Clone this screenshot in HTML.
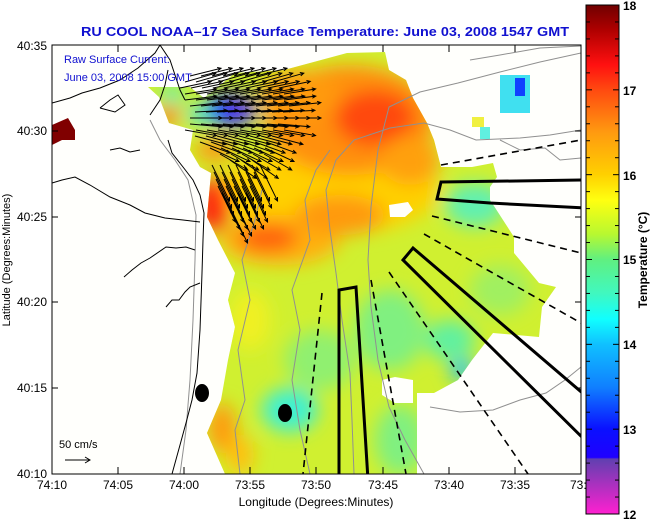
<!DOCTYPE html>
<html><head><meta charset="utf-8">
<style>
html,body{margin:0;padding:0;background:#fff;}
svg{display:block;font-family:"Liberation Sans",Arial,sans-serif;}
</style></head>
<body>
<svg id="chart" width="651" height="519" viewBox="0 0 651 519" xmlns="http://www.w3.org/2000/svg">
<defs>
  <clipPath id="plotClip"><rect x="52" y="45" width="529" height="429"/></clipPath>
  <clipPath id="dataClip"><polygon points="148,87 190,87 204,98 235,73 284,70 347,53 385,52 389,70 406,80 413,98 427,123 434,140 441,167 472,167 493,163 497,177 490,187 490,200 514,237 514,253 539,283 556,287 542,307 539,337 493,333 472,360 458,380 434,393 417,393 417,474 225,474 207,433 221,400 228,360 235,327 228,300 235,273 218,240 207,217 211,173 200,167 190,150 193,130 169,123 159,97"/></clipPath>
  <filter id="blur" x="-30%" y="-30%" width="160%" height="160%"><feGaussianBlur stdDeviation="9"/></filter>
  <linearGradient id="cbGrad" x1="0" y1="0" x2="0" y2="1">
    <stop offset="0" stop-color="#700000"/>
    <stop offset="0.05" stop-color="#b00000"/>
    <stop offset="0.117" stop-color="#ff1010"/>
    <stop offset="0.167" stop-color="#ff4a10"/>
    <stop offset="0.25" stop-color="#ff9a10"/>
    <stop offset="0.333" stop-color="#ffd000"/>
    <stop offset="0.383" stop-color="#ffff10"/>
    <stop offset="0.45" stop-color="#b8f830"/>
    <stop offset="0.5" stop-color="#60f080"/>
    <stop offset="0.567" stop-color="#40f8c0"/>
    <stop offset="0.617" stop-color="#10ffff"/>
    <stop offset="0.667" stop-color="#10c0ff"/>
    <stop offset="0.75" stop-color="#1080ff"/>
    <stop offset="0.833" stop-color="#0a10ff"/>
    <stop offset="0.889" stop-color="#2000ff"/>
    <stop offset="0.892" stop-color="#6040b0"/>
    <stop offset="1" stop-color="#ff20d0"/>
  </linearGradient>
</defs>
<rect x="0" y="0" width="651" height="519" fill="#fff"/>
<text x="325" y="36" text-anchor="middle" font-size="13" font-weight="bold" fill="#1010d0" textLength="488" lengthAdjust="spacingAndGlyphs">RU COOL  NOAA–17  Sea Surface Temperature:  June 03, 2008 1547 GMT</text>

<g clip-path="url(#plotClip)">
  <rect x="52" y="45" width="529" height="429" fill="#fffffc"/>
  <g clip-path="url(#dataClip)">
    <rect x="52" y="45" width="529" height="429" fill="#d0f030"/>
    <g id="blobs" filter="url(#blur)">
      <ellipse cx="330" cy="190" rx="110" ry="45" fill="#ffd000"/>
      <ellipse cx="280" cy="240" rx="60" ry="25" fill="#ffb010"/>
      <ellipse cx="350" cy="120" rx="85" ry="55" fill="#ff9010"/>
      <ellipse cx="375" cy="118" rx="40" ry="28" fill="#ff4a10"/>
      <ellipse cx="300" cy="95" rx="40" ry="25" fill="#ff9a10"/>
      <ellipse cx="410" cy="160" rx="30" ry="25" fill="#ffa010"/>
      <ellipse cx="340" cy="215" rx="45" ry="20" fill="#ff9a10"/>
      <ellipse cx="214" cy="205" rx="16" ry="28" fill="#ff2010"/>
      <ellipse cx="268" cy="238" rx="30" ry="14" fill="#ff6010"/>
      <ellipse cx="230" cy="110" rx="26" ry="16" fill="#1030ff"/>
      <ellipse cx="240" cy="107" rx="10" ry="6" fill="#8030d0"/>
      <ellipse cx="200" cy="115" rx="14" ry="8" fill="#40e0f0"/>
      <ellipse cx="172" cy="95" rx="12" ry="8" fill="#40f0d0"/>
      <ellipse cx="168" cy="115" rx="10" ry="10" fill="#ff7010"/>
      <ellipse cx="215" cy="150" rx="20" ry="10" fill="#ff9010"/>
      <ellipse cx="222" cy="428" rx="14" ry="25" fill="#ff9a10"/>
      <ellipse cx="240" cy="455" rx="14" ry="20" fill="#ffc010"/>
      <ellipse cx="290" cy="410" rx="28" ry="22" fill="#40f0d0"/>
      <ellipse cx="320" cy="360" rx="35" ry="30" fill="#90f070"/>
      <ellipse cx="390" cy="330" rx="35" ry="40" fill="#80f080"/>
      <ellipse cx="400" cy="440" rx="25" ry="35" fill="#80f080"/>
      <ellipse cx="462" cy="370" rx="12" ry="10" fill="#10c0ff"/>
      <ellipse cx="450" cy="340" rx="25" ry="20" fill="#60f0a0"/>
      <ellipse cx="500" cy="290" rx="30" ry="25" fill="#a0f060"/>
      <ellipse cx="475" cy="205" rx="30" ry="22" fill="#60f0b0"/>
      <ellipse cx="250" cy="320" rx="20" ry="30" fill="#f0f020"/>
    </g>
  </g>
  <rect x="500" y="75" width="30" height="38" fill="#40e0f0"/>
  <rect x="515" y="78" width="10" height="18" fill="#1040ff"/>
  <rect x="472" y="117" width="12" height="10" fill="#f0f040"/>
  <rect x="480" y="127" width="10" height="12" fill="#60f0e0"/>
  <polygon points="52,125 68,118 75,130 75,140 62,140 52,145" fill="#800000"/>
  <polygon points="389,205 408,202 413,210 405,217 390,217" fill="#fffffc"/>
  <polygon points="382,380 395,377 413,380 413,403 395,403 382,395" fill="#fffffc"/>

  <g fill="none" stroke="#909090" stroke-width="1">
    <polyline points="354,474 352,420 350,373 342,320 336,273 330,230 326,190 336,160 354,140 390,128 424,123 450,130 476,140 520,138 550,135 581,130"/>
    <polyline points="424,474 405,440 389,407 378,360 371,307 368,260 371,207 378,150 389,107 420,92 458,83 500,72 540,62 581,53"/>
    <polyline points="430,407 460,412 493,410 520,400 546,393 565,380 581,367"/>
    <polyline points="310,474 300,430 292,380 300,330 292,290 310,240 305,200 316,170 330,150"/>
    <polyline points="180,474 186,430 190,380 193,320 195,260 196,215 188,180 175,160 160,140 150,120"/>
    <polyline points="240,474 235,430 245,400 238,350 250,300 242,260 255,220 262,190"/>
    <polyline points="470,60 500,55 540,48 581,46"/>
    <polyline points="500,140 520,150 545,148 560,160 581,158"/>
  </g>
  <g fill="none" stroke="#000" stroke-width="1">
    <polyline points="172,474 180,445 186,423 192,400 197,373 200,330 202,273 203,240 204,213 200,195 193,180 183,167 172,153 168,140"/>
    <polyline points="52,183 62,180 75,177 90,185 110,197 130,205 145,213 165,218 183,220 200,222"/>
    <polyline points="124,277 132,270 141,263 150,258 166,247 176,248 186,247 195,250"/>
    <polyline points="166,307 172,300 179,300 185,292 190,287 200,283"/>
    <polyline points="52,103 70,98 82,93 100,88 120,80 138,68 155,53 160,45"/>
    <polyline points="160,45 170,60 175,75 180,90 185,100"/>
    <polyline points="100,108 110,100 118,95 125,105 115,112 100,108"/>
    <polyline points="110,150 120,148 130,152 140,150"/>
    <polyline points="150,115 160,100 165,85 168,70"/>
  </g>

  <g fill="none" stroke="#000" stroke-width="3">
    <polygon points="441,182 585,180 585,208 490,203 437,199"/>
    <polygon points="403,260 413,248 600,408 600,455"/>
    <polygon points="339,480 339,290 356,287 368,480"/>
  </g>
  <g fill="none" stroke="#000" stroke-width="1.6" stroke-dasharray="7,5">
    <line x1="441" y1="165" x2="581" y2="140"/>
    <line x1="432" y1="216" x2="581" y2="253"/>
    <line x1="424" y1="234" x2="581" y2="323"/>
    <line x1="389" y1="272" x2="528" y2="474"/>
    <line x1="371" y1="280" x2="406" y2="474"/>
    <line x1="322" y1="293" x2="303" y2="474"/>
  </g>
  <ellipse cx="202" cy="393" rx="7" ry="9" fill="#000"/>
  <ellipse cx="285" cy="413" rx="7" ry="9" fill="#000"/>
  <g id="arrows" stroke="#000" stroke-width="1" fill="none"></g>
  <text x="64" y="63" font-size="11" fill="#1010d0">Raw Surface Current:</text>
  <text x="64" y="81" font-size="11" fill="#1010d0">June 03, 2008 15:00 GMT</text>
  <text x="59" y="448" font-size="11" fill="#000">50 cm/s</text>
  <g stroke="#000" stroke-width="1" fill="none">
    <line x1="65" y1="460" x2="90" y2="460"/><polyline points="85,457 90,460 85,463"/>
  </g>
</g>
<rect x="52" y="45" width="529" height="429" fill="none" stroke="#000" stroke-width="1"/>

<g font-size="12" fill="#000" stroke="none">
  <g stroke="#000">
    <line x1="52" y1="474" x2="52" y2="467"/><line x1="118" y1="474" x2="118" y2="467"/><line x1="184" y1="474" x2="184" y2="467"/><line x1="250" y1="474" x2="250" y2="467"/><line x1="316" y1="474" x2="316" y2="467"/><line x1="383" y1="474" x2="383" y2="467"/><line x1="449" y1="474" x2="449" y2="467"/><line x1="515" y1="474" x2="515" y2="467"/>
    <line x1="118" y1="45" x2="118" y2="52"/><line x1="184" y1="45" x2="184" y2="52"/><line x1="250" y1="45" x2="250" y2="52"/><line x1="316" y1="45" x2="316" y2="52"/><line x1="383" y1="45" x2="383" y2="52"/><line x1="449" y1="45" x2="449" y2="52"/><line x1="515" y1="45" x2="515" y2="52"/>
  </g>
  <text x="52" y="489" text-anchor="middle">74:10</text>
  <text x="118" y="489" text-anchor="middle">74:05</text>
  <text x="184" y="489" text-anchor="middle">74:00</text>
  <text x="250" y="489" text-anchor="middle">73:55</text>
  <text x="316" y="489" text-anchor="middle">73:50</text>
  <text x="383" y="489" text-anchor="middle">73:45</text>
  <text x="449" y="489" text-anchor="middle">73:40</text>
  <text x="515" y="489" text-anchor="middle">73:35</text>
  <text x="570" y="489">73:3</text>
</g>
<g font-size="12" fill="#000">
  <g stroke="#000">
    <line x1="52" y1="131" x2="58" y2="131"/><line x1="52" y1="217" x2="58" y2="217"/><line x1="52" y1="302" x2="58" y2="302"/><line x1="52" y1="388" x2="58" y2="388"/>
    <line x1="581" y1="131" x2="575" y2="131"/><line x1="581" y1="217" x2="575" y2="217"/><line x1="581" y1="302" x2="575" y2="302"/><line x1="581" y1="388" x2="575" y2="388"/>
  </g>
  <text x="47" y="50" text-anchor="end">40:35</text>
  <text x="47" y="135" text-anchor="end">40:30</text>
  <text x="47" y="221" text-anchor="end">40:25</text>
  <text x="47" y="306" text-anchor="end">40:20</text>
  <text x="47" y="392" text-anchor="end">40:15</text>
  <text x="47" y="478" text-anchor="end">40:10</text>
</g>
<text x="316" y="506" text-anchor="middle" font-size="12">Longitude (Degrees:Minutes)</text>
<text transform="translate(10,260) rotate(-90)" text-anchor="middle" font-size="11">Latitude (Degrees:Minutes)</text>

<g id="colorbar">
  <rect x="586" y="5" width="33" height="509" fill="url(#cbGrad)" stroke="#000" stroke-width="1"/>
  <g font-size="12" font-weight="bold" fill="#000">
    <text x="623" y="10">18</text>
    <text x="623" y="95">17</text>
    <text x="623" y="180">16</text>
    <text x="623" y="264">15</text>
    <text x="623" y="349">14</text>
    <text x="623" y="434">13</text>
    <text x="623" y="519">12</text>
  </g>
  <g id="cbTicks" stroke="#000"></g>
</g>
<text transform="translate(647,260) rotate(-90)" text-anchor="middle" font-size="12" font-weight="bold">Temperature (°C)</text>
</svg>
<script>
var NS='http://www.w3.org/2000/svg';
var rowY=[76,82,88,94,100,106,112,118,124,130,136,142,148,154,160];
var rowX0=[190,185,180,185,185,190,195,190,190,185,195,200,210,220,230];
var rowX1=[265,275,285,290,290,290,290,290,285,285,280,275,270,265,260];
var rowAng=[-14,-16,-12,-9,-7,-6,-3,0,5,10,15,20,25,30,35];
var lowY=[165,172,179,186,193,200,207];
var lowX0=[212,214,216,218,222,226,230];
var lowX1=[262,258,254,250,246,240,236];
try{
var arr=document.getElementById('arrows');
function arrow(x,y,ang,len){
  var a=ang*Math.PI/180,ex=x+len*Math.cos(a),ey=y+len*Math.sin(a);
  var p=document.createElementNS(NS,'path');
  var h=4,b1=a+2.7,b2=a-2.7;
  p.setAttribute('d','M'+x+','+y+'L'+ex+','+ey+'M'+(ex+h*Math.cos(b1))+','+(ey+h*Math.sin(b1))+'L'+ex+','+ey+'L'+(ex+h*Math.cos(b2))+','+(ey+h*Math.sin(b2)));
  
  
  arr.appendChild(p);
}
for(var r=0;r<rowY.length;r++){
  for(var xx=rowX0[r];xx<=rowX1[r];xx+=11){arrow(xx,rowY[r],rowAng[r],32);}
}
for(var r2=0;r2<lowY.length;r2++){
  for(var xx2=lowX0[r2];xx2<=lowX1[r2];xx2+=8){arrow(xx2,lowY[r2],64,40);}
}
var cbt=document.getElementById('cbTicks');
for(var k=1;k<30;k++){
  var yy=514-k*509/30;
  var l1=document.createElementNS(NS,'line');
  l1.setAttribute('x1',586);l1.setAttribute('x2',k%5==0?592:590);l1.setAttribute('y1',yy);l1.setAttribute('y2',yy);
  
  
  cbt.appendChild(l1);
  var l2=document.createElementNS(NS,'line');
  l2.setAttribute('x1',619);l2.setAttribute('x2',k%5==0?613:615);l2.setAttribute('y1',yy);l2.setAttribute('y2',yy);
  
  
  cbt.appendChild(l2);
}
}catch(e){}
</script>
</body></html>
